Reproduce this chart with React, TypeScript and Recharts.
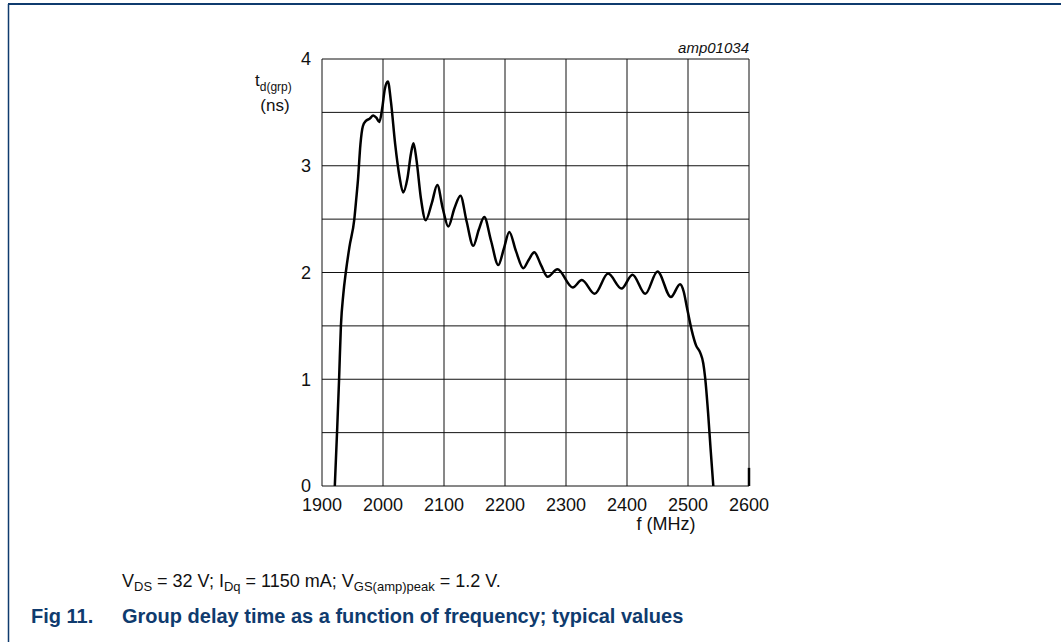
import React from "react";
import {
  LineChart,
  Line,
  XAxis,
  YAxis,
  CartesianGrid,
} from "recharts";

// f (MHz) and group delay (ns)
const freq = [
  1921, 1925, 1928, 1931, 1935, 1939, 1945, 1953, 1956, 1959, 1963, 1967,
  1972, 1978, 1984, 1989, 1994, 1999, 2003, 2008, 2013, 2020, 2027, 2033,
  2040, 2046, 2050, 2055, 2062, 2070, 2080, 2089, 2098, 2107, 2117, 2127,
  2137, 2148, 2157, 2166, 2177, 2189, 2198, 2207, 2218, 2230, 2239, 2248,
  2259, 2270, 2286, 2311, 2326, 2347, 2369, 2391, 2409, 2430, 2450, 2472,
  2487, 2493, 2498, 2506, 2513, 2520, 2525, 2528, 2533, 2537, 2541.5,
];
const delay = [
  0, 0.55, 1.0, 1.5, 1.8, 2.0, 2.24, 2.5, 2.68, 2.87, 3.2, 3.37,
  3.42, 3.44, 3.47, 3.45, 3.41, 3.55, 3.72, 3.79, 3.6, 3.2, 2.9, 2.75,
  2.88, 3.12, 3.21, 3.05, 2.7, 2.49, 2.65, 2.82, 2.6, 2.43, 2.6, 2.72,
  2.48, 2.25, 2.4, 2.52, 2.3, 2.07, 2.22, 2.38, 2.2, 2.04, 2.12, 2.19,
  2.07, 1.96, 2.03, 1.86, 1.93, 1.8, 1.99, 1.85, 1.98, 1.8, 2.01, 1.77,
  1.89, 1.82, 1.68, 1.46, 1.32, 1.25, 1.15, 1.02, 0.68, 0.35, 0,
];

// the curve coming back in at the right edge of the plot
const edgeFreq = [2600, 2600];
const edgeDelay = [0, 0.17];

const xTicks = [1900, 2000, 2100, 2200, 2300, 2400, 2500, 2600];
const yTicks = [0, 0.5, 1, 1.5, 2, 2.5, 3, 3.5, 4];
const yLabels = ["0", "1", "2", "3", "4"];

const navy = "#0f3b6e";
const font = "'Liberation Sans', Arial, sans-serif";

export default function App() {
  const data = freq.map((f, i) => ({ f, v: delay[i] }));
  const edge = edgeFreq.map((f, i) => ({ f, v: edgeDelay[i] }));

  const yFmt = (v: number) =>
    Number.isInteger(v) ? yLabels[v] : "";

  return (
    <div
      style={{
        position: "absolute",
        left: 0,
        top: 0,
        width: 1061,
        height: 642,
        background: "#fff",
        fontFamily: font,
      }}
    >
      <LineChart
        width={1061}
        height={642}
        data={data}
        margin={{ top: 59, right: 312, bottom: 126, left: 282 }}
        style={{ position: "absolute", left: 0, top: 0 }}
      >
        <CartesianGrid stroke="#111" strokeWidth={1} />
        <XAxis
          dataKey="f"
          type="number"
          domain={[1900, 2600]}
          ticks={xTicks}
          interval={0}
          height={30}
          axisLine={false}
          tickLine={false}
          tickSize={0}
          tickMargin={12}
          tick={{ fontSize: 18, fill: "#111", fontFamily: font }}
        />
        <YAxis
          type="number"
          domain={[0, 4]}
          ticks={yTicks}
          interval={0}
          width={40}
          axisLine={false}
          tickLine={false}
          tickSize={0}
          tickMargin={11}
          tickFormatter={yFmt}
          tick={{ fontSize: 18, fill: "#111", fontFamily: font }}
        />
        <Line
          dataKey="v"
          type="monotone"
          stroke="#000"
          strokeWidth={2.5}
          dot={false}
          isAnimationActive={false}
        />
        <Line
          data={edge}
          dataKey="v"
          type="linear"
          stroke="#000"
          strokeWidth={2.5}
          dot={false}
          isAnimationActive={false}
        />
      </LineChart>

      <svg
        width={1061}
        height={642}
        style={{ position: "absolute", left: 0, top: 0, pointerEvents: "none" }}
      >
        <line x1={8} y1={4} x2={1061} y2={4} stroke={navy} strokeWidth={2} />
        <line x1={8.5} y1={4} x2={8.5} y2={642} stroke={navy} strokeWidth={1.5} />

        <text x={749} y={53} textAnchor="end" fontSize={15} fontStyle="italic" fill="#111" fontFamily={font}>
          amp01034
        </text>

        <text x={255} y={86} fontSize={17} fill="#111" fontFamily={font}>
          t<tspan fontSize={12} dy={5}>d(grp)</tspan>
        </text>
        <text x={275} y={111} textAnchor="middle" fontSize={17} fill="#111" fontFamily={font}>
          (ns)
        </text>

        <text x={666} y={530} textAnchor="middle" fontSize={18} fill="#111" fontFamily={font}>
          f (MHz)
        </text>

        <text x={122} y={587} fontSize={18} fill="#111" fontFamily={font}>
          V<tspan fontSize={13} dy={4}>DS</tspan>
          <tspan dy={-4}> = 32 V; I</tspan>
          <tspan fontSize={13} dy={4}>Dq</tspan>
          <tspan dy={-4}> = 1150 mA; V</tspan>
          <tspan fontSize={13} dy={4}>GS(amp)peak</tspan>
          <tspan dy={-4}> = 1.2 V.</tspan>
        </text>

        <text x={31} y={623} fontSize={20} fontWeight="bold" fill={navy} fontFamily={font}>
          Fig 11.
        </text>
        <text x={122} y={623} fontSize={20} fontWeight="bold" fill={navy} fontFamily={font}>
          Group delay time as a function of frequency; typical values
        </text>
      </svg>
    </div>
  );
}
